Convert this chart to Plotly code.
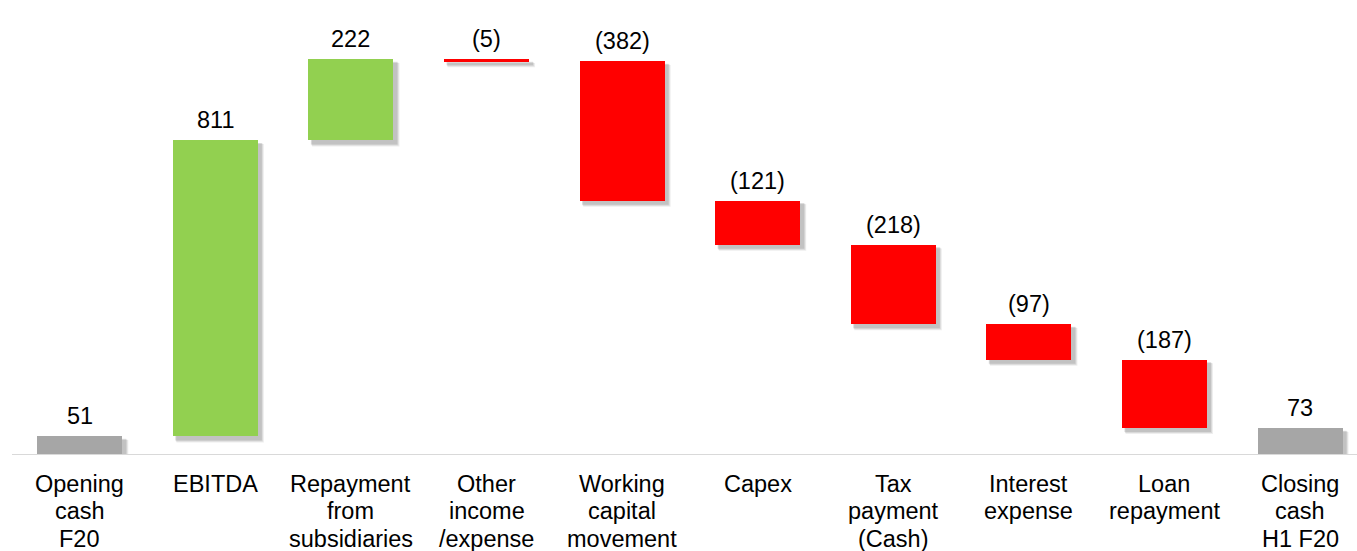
import plotly.graph_objects as go

# Cash bridge components
categories = [
    "Opening<br>cash<br>F20", "EBITDA", "Repayment<br>from<br>subsidiaries",
    "Other<br>income<br>/expense", "Working<br>capital<br>movement", "Capex",
    "Tax<br>payment<br>(Cash)", "Interest<br>expense", "Loan<br>repayment",
    "Closing<br>cash<br>H1 F20",
]
values = [51, 811, 222, -5, -382, -121, -218, -97, -187, 73]
kinds = ["total", "delta", "delta", "delta", "delta", "delta", "delta", "delta", "delta", "total"]

GREEN = "#92D050"
RED = "#FF0000"
GREY = "#A6A6A6"
FONT = "Liberation Sans, Arial, sans-serif"
FONT_SIZE = 23.5
LINE_STEP = 27.5

W, H = 1357, 551
M_L, M_R, M_T, M_B = 12, 0, 0, 96
X_RANGE = [-0.5, 9.42]
Y_RANGE = [0, 1247]
BAR_W = 0.627

# compute floating bases
bases, heights, colors, tops = [], [], [], []
running = 0
for v, k in zip(values, kinds):
    if k == "total":
        base, h, c = 0, v, GREY
        running = v
    else:
        if v >= 0:
            base, h, c = running, v, GREEN
        else:
            base, h, c = running + v, -v, RED
        running += v
    bases.append(base)
    heights.append(h)
    colors.append(c)
    tops.append(base + h)

labels = [str(v) if v >= 0 else f"({-v})" for v in values]
x = list(range(len(categories)))

# pixel-to-data conversion for the drop shadows
px_x = (X_RANGE[1] - X_RANGE[0]) / (W - M_L - M_R)
px_y = (Y_RANGE[1] - Y_RANGE[0]) / (H - M_T - M_B)

shapes = []
for i, (b, h) in enumerate(zip(bases, heights)):
    for dx, op in [(6, 0.10), (5, 0.14), (4, 0.18)]:
        shapes.append(dict(
            type="rect", xref="x", yref="y", layer="below",
            x0=i - BAR_W / 2 + dx * px_x * 0.6, x1=i + BAR_W / 2 + dx * px_x,
            y0=max(b - dx * px_y, 0), y1=b + h - dx * px_y * 0.6,
            fillcolor=f"rgba(90,90,90,{op})", line=dict(width=0),
        ))

# baseline
shapes.append(dict(type="line", xref="paper", yref="y", x0=0, x1=1, y0=0, y1=0,
                   line=dict(color="#D9D9D9", width=2)))

fig = go.Figure()
fig.add_trace(go.Bar(
    x=x, y=heights, base=bases, width=BAR_W,
    marker=dict(color=colors, line=dict(width=0)),
    hoverinfo="skip",
))

annotations = []
# value labels above each bar
for i, (t, lab) in enumerate(zip(tops, labels)):
    annotations.append(dict(
        x=i, y=t, xref="x", yref="y", text=lab, showarrow=False,
        yanchor="bottom", yshift=5,
        font=dict(family=FONT, size=FONT_SIZE, color="#000000"),
    ))
# category labels, one line at a time for tight line spacing
for i, cat in enumerate(categories):
    for k, line in enumerate(cat.split("<br>")):
        annotations.append(dict(
            x=i, y=0, xref="x", yref="paper", text=line, showarrow=False,
            yanchor="middle", yshift=-(28.5 + k * LINE_STEP),
            font=dict(family=FONT, size=FONT_SIZE, color="#000000"),
        ))

fig.update_layout(
    width=W, height=H,
    margin=dict(l=M_L, r=M_R, t=M_T, b=M_B),
    plot_bgcolor="white", paper_bgcolor="white",
    showlegend=False, bargap=0,
    shapes=shapes, annotations=annotations,
    xaxis=dict(
        range=X_RANGE, tickmode="array", tickvals=x, showticklabels=False,
        showgrid=False, zeroline=False, showline=False, ticks="",
    ),
    yaxis=dict(range=Y_RANGE, visible=False, showgrid=False, zeroline=False),
)

fig.write_html("out.html")
